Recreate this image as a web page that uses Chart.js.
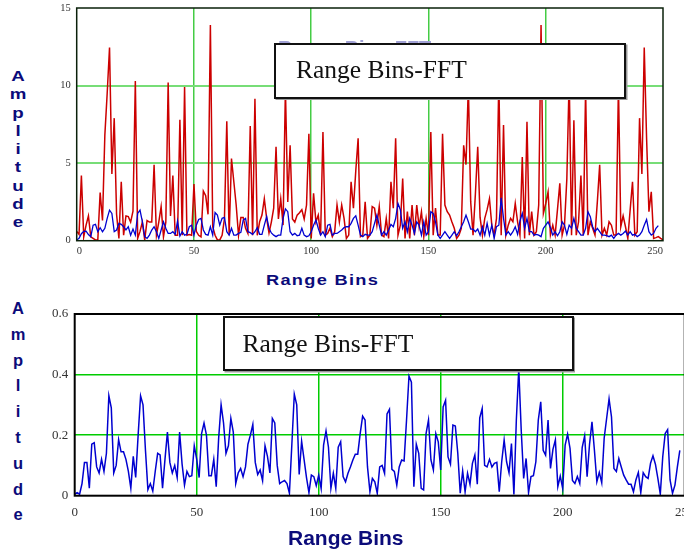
<!DOCTYPE html>
<html>
<head>
<meta charset="utf-8">
<script src="https://cdn.jsdelivr.net/npm/chart.js@4.4.0/dist/chart.umd.min.js"></script>
<style>
html, body { margin: 0; padding: 0; background: #fff; }
body { position: relative; width: 684px; height: 553px; overflow: hidden; }
canvas { position: absolute; }
.col { position: absolute; font-family: "Liberation Sans", Arial, sans-serif; font-weight: bold; color: #0b0b7a; text-align: center; }
.col span { display: block; }
.xt { position: absolute; font-family: "Liberation Sans", Arial, sans-serif; font-weight: bold; color: #0b0b7a; white-space: pre; }
.box { position: absolute; box-sizing: border-box; border: 2.5px solid #111; background: #fff; box-shadow: 1.5px 1.5px 0 #999; }
.boxtext { position: absolute; font-family: "Liberation Serif", "Times New Roman", serif; font-size: 25.5px; line-height: 25px; color: #111; white-space: pre; }
</style>
</head>
<body>
<canvas id="topChart" width="634" height="262" style="left:40px;top:0"></canvas>
<canvas id="bottomChart" width="670" height="240" style="left:30px;top:290px"></canvas>

<div id="ampTop" class="col" style="left:8px;top:67px;width:20px;font-size:14.4px;line-height:18.3px;transform:scaleX(1.3)"></div>
<div id="ampBottom" class="col" style="left:8px;top:296px;width:20px;font-size:16.5px;line-height:25.8px"></div>

<div class="xt" style="left:266px;top:273px;font-size:14px;line-height:14px;letter-spacing:1px;transform:scaleX(1.3);transform-origin:left top">Range Bins</div>
<div class="xt" style="left:288px;top:527px;font-size:21px;line-height:21px">Range Bins</div>

<div class="xt" style="left:278px;top:37.5px;font-size:20px;line-height:20px;color:#a0a0d4">Range Bins-FFT</div>
<div class="box" style="left:274px;top:42.5px;width:352px;height:56px"></div>
<div class="boxtext" style="left:296px;top:57.4px">Range Bins-FFT</div>

<div class="box" style="left:222.5px;top:315.5px;width:351px;height:55.5px"></div>
<div class="boxtext" style="left:242.5px;top:330.8px">Range Bins-FFT</div>

<script>
// --- data (index = range bin) ---
const yTitle = 'Amplitude';
const xTickValues = [0, 50, 100, 150, 200, 250];
const topYTicks = [0, 5, 10, 15];
const bottomYTicks = [0, 0.2, 0.4, 0.6];

const redTop = [
  0.6, 0.4, 4.2, 0.25, 1.0, 1.6, 0.25, 0.15, 0.05, 0.05,
  3.1, 1.3, 6.8, 9.5, 12.45, 4.3, 7.9, 1.7, 0.15, 3.8,
  0.35, 1.6, 1.55, 1.2, 1.9, 10.3, 0.15, 0.6, 1.2, 0.05,
  1.3, 1.2, 1.2, 4.9, 0.35, 1.2, 2.2, 0.25, 1.2, 10.2,
  1.6, 4.2, 0.35, 0.35, 7.8, 0.35, 9.9, 0.35, 0.4, 0.35,
  3.65, 0.6, 0.35, 0.25, 3.2, 2.9, 1.7, 13.9, 0.9, 0.35,
  0.05, 0.05, 0.35, 1.4, 7.7, 0.35, 5.3, 3.8, 2.3, 0.35,
  1.5, 1.5, 0.8, 0.47, 7.4, 0.35, 9.15, 0.35, 1.22, 1.65,
  2.7, 1.44, 0.5, 1.2, 2.1, 6.05, 1.4, 2.7, 1.0, 9.8,
  2.5, 6.15, 1.4, 1.2, 1.65, 1.8, 2.0, 1.4, 2.3, 6.9,
  0.15, 3.05, 1.2, 1.65, 0.36, 7.0, 0.36, 0.47, 0.8, 0.26,
  0.58, 2.3, 1.2, 2.3, 1.44, 0.15, 0.36, 3.8, 2.1, 4.5,
  6.6, 0.26, 0.36, 2.5, 0.15, 0.36, 2.2, 2.1, 1.0, 2.2,
  0.36, 0.26, 1.44, 0.15, 3.8, 2.1, 6.6, 0.36, 1.0, 4.0,
  0.15, 1.87, 0.15, 2.3, 0.36, 2.3, 0.9, 1.87, 0.26, 1.44,
  0.36, 7.0, 0.36, 2.1, 0.36, 0.36, 6.9, 2.3, 1.87, 1.65,
  1.2, 0.8, 0.15, 0.36, 0.8, 6.15, 4.9, 10.0, 2.5, 0.36,
  3.0, 6.05, 1.5, 0.36, 1.44, 2.0, 2.7, 1.0, 0.36, 1.44,
  10.5, 0.36, 7.45, 0.36, 1.0, 1.44, 1.22, 2.4, 1.22, 0.36,
  5.4, 0.15, 7.66, 0.36, 1.87, 0.36, 0.58, 2.3, 13.9, 1.76,
  2.4, 3.15, 0.36, 1.0, 0.36, 2.0, 3.7, 0.36, 1.0, 4.0,
  10.5, 0.36, 7.77, 0.36, 1.22, 4.2, 0.36, 9.8, 0.36, 1.22,
  0.8, 0.36, 2.5, 4.9, 0.36, 0.8, 0.36, 1.22, 1.0, 0.36,
  0.36, 10.0, 0.9, 1.6, 0.9, 0.15, 2.0, 3.8, 0.36, 0.58,
  7.9, 4.3, 12.45, 6.6, 1.87, 3.15, 0.15, 0.2, 0.26, 0.15,
  0.05
];

const blueTop = [
  0.05, 0.15, 0.45, 0.6, 0.62, 0.4, 0.26, 1.0, 1.05, 0.58,
  0.84, 0.58, 0.8, 1.44, 1.97, 1.76, 0.58, 0.69, 1.12, 1.05,
  0.9, 0.69, 0.9, 0.36, 0.75, 0.36, 1.76, 1.97, 1.22, 0.26,
  0.15, 0.36, 0.69, 0.9, 0.58, 0.15, 0.69, 1.22, 0.8, 0.47,
  0.47, 0.58, 0.41, 1.27, 0.3, 0.58, 0.36, 0.41, 0.9, 1.0,
  0.36, 1.0, 1.37, 1.44, 0.69, 0.41, 0.36, 0.9, 0.36, 1.82,
  1.65, 1.0, 1.44, 1.5, 0.58, 0.36, 0.8, 0.36, 0.36, 0.47,
  0.54, 1.33, 1.44, 0.58, 0.52, 0.41, 0.58, 0.84, 0.41, 0.41,
  1.0, 1.55, 0.8, 0.5, 0.36, 0.26, 0.36, 0.36, 1.44, 2.05,
  1.87, 0.58, 0.36, 0.47, 0.32, 0.36, 0.8, 0.36, 0.26, 0.32,
  0.58, 1.0, 1.33, 0.8, 0.36, 0.58, 0.26, 1.0, 1.05, 0.36,
  0.47, 0.47, 0.58, 0.69, 0.84, 0.9, 0.9, 1.12, 1.44, 1.6,
  1.0, 0.36, 0.26, 0.41, 0.36, 0.36, 0.58, 1.12, 1.65, 1.0,
  0.36, 0.58, 0.36, 0.69, 1.05, 0.9, 1.44, 2.4, 2.0, 0.8,
  1.22, 0.58, 1.44, 1.0, 0.47, 1.22, 1.0, 0.36, 1.22, 0.36,
  0.58, 1.87, 1.76, 1.22, 0.36, 0.15, 0.36, 0.58, 0.36, 0.15,
  0.36, 0.58, 0.32, 0.58, 0.9, 1.22, 1.65, 1.22, 0.75, 0.75,
  0.58, 0.75, 0.36, 0.9, 0.36, 1.12, 0.36, 1.0, 0.15, 0.9,
  1.0, 2.77, 1.44, 0.36, 0.58, 0.36, 0.58, 0.9, 0.41, 1.27,
  1.76, 0.8, 1.44, 0.58, 0.58, 0.36, 0.41, 0.36, 0.26, 0.8,
  1.0, 1.22, 0.84, 0.36, 0.58, 0.32, 0.58, 1.22, 1.0, 0.41,
  1.0, 0.8, 1.44, 0.8, 0.58, 0.36, 0.36, 0.8, 1.87, 1.55,
  0.9, 0.58, 0.8, 0.58, 0.36, 0.36, 0.32, 0.26, 0.36, 0.15,
  0.36, 0.47, 0.36, 0.47, 0.62, 0.36, 0.58, 0.36, 0.41, 0.26,
  0.36, 0.58, 1.0, 1.37, 0.58, 0.36, 0.47, 0.8, 0.97
];

const blueBottom = [
  0.005, 0.01, 0.005, 0.04, 0.11, 0.11, 0.025, 0.17, 0.175, 0.095,
  0.075, 0.12, 0.08, 0.14, 0.33, 0.29, 0.075, 0.1, 0.185, 0.145,
  0.145, 0.12, 0.08, 0.025, 0.13, 0.06, 0.2, 0.33, 0.3, 0.15,
  0.02, 0.04, 0.015, 0.08, 0.14, 0.135, 0.025, 0.12, 0.21, 0.11,
  0.075, 0.1, 0.06, 0.21, 0.105, 0.035, 0.08, 0.063, 0.066, 0.165,
  0.12, 0.06, 0.205, 0.24, 0.2, 0.066, 0.066, 0.12, 0.03, 0.19,
  0.3, 0.24, 0.14, 0.165, 0.255, 0.21, 0.04, 0.075, 0.09, 0.063,
  0.095, 0.17, 0.2, 0.235, 0.11, 0.07, 0.085, 0.05, 0.165, 0.13,
  0.075, 0.255, 0.24, 0.1, 0.04, 0.046, 0.05, 0.04, 0.008, 0.17,
  0.335, 0.3, 0.07, 0.18, 0.12, 0.06, 0.01, 0.068, 0.063, 0.033,
  0.068, 0.024, 0.167, 0.214, 0.16, 0.024, 0.074, 0.024, 0.16, 0.178,
  0.063, 0.046, 0.074, 0.095, 0.118, 0.137, 0.137, 0.205, 0.263, 0.25,
  0.095, 0.013, 0.057, 0.046, 0.008, 0.095, 0.1, 0.074, 0.27, 0.285,
  0.087, 0.08, 0.035, 0.095, 0.118, 0.115, 0.25, 0.395, 0.375, 0.03,
  0.17, 0.14, 0.024, 0.019, 0.205, 0.25, 0.118, 0.085, 0.205, 0.178,
  0.085, 0.293, 0.315, 0.128, 0.104, 0.233, 0.23, 0.14, 0.008, 0.082,
  0.013, 0.074, 0.038, 0.107, 0.134, 0.038, 0.257, 0.288, 0.1, 0.095,
  0.12, 0.095, 0.107, 0.11, 0.013, 0.112, 0.184, 0.112, 0.076, 0.172,
  0.004, 0.25, 0.42, 0.216, 0.057, 0.123, 0.01, 0.063, 0.066, 0.112,
  0.25, 0.31, 0.15, 0.134, 0.25, 0.09, 0.153, 0.184, 0.03, 0.065,
  0.024, 0.167, 0.203, 0.156, 0.05, 0.04, 0.063, 0.04, 0.16, 0.198,
  0.063, 0.17, 0.244, 0.15, 0.046, 0.077, 0.043, 0.19, 0.255, 0.32,
  0.26, 0.09, 0.08, 0.123, 0.095, 0.068, 0.052, 0.038, 0.038, 0.013,
  0.052, 0.077, 0.01, 0.076, 0.063, 0.057, 0.107, 0.132, 0.104, 0.057,
  0.005, 0.128, 0.205, 0.218, 0.052, 0.008, 0.035, 0.095, 0.15
];

// stacked vertical axis titles
['ampTop', 'ampBottom'].forEach(id => {
  document.getElementById(id).innerHTML = yTitle.split('').map(c => '<span>' + c + '</span>').join('');
});

const toPoints = arr => arr.map((v, i) => ({ x: i, y: v }));

// outline of the plot area
const frame = {
  id: 'frame',
  afterDraw(chart, args, opts) {
    const { left, top, width, height } = chart.chartArea;
    const ctx = chart.ctx;
    ctx.save();
    ctx.strokeStyle = opts.color;
    ctx.lineWidth = opts.width;
    ctx.strokeRect(left, top, width, height);
    ctx.restore();
  }
};

function gridColor(color, min, max) {
  return ctx => (ctx.tick && (ctx.tick.value === min || ctx.tick.value === max)) ? 'rgba(0,0,0,0)' : color;
}

// fixed axis sizes, no extra room for edge labels
function fixSize(prop, size) {
  return s => {
    s[prop] = size;
    s.paddingTop = 0; s.paddingBottom = 0; s.paddingLeft = 0; s.paddingRight = 0;
  };
}

function makeChart(id, datasets, cfg) {
  const yMax = cfg.yTicks[cfg.yTicks.length - 1];
  return new Chart(document.getElementById(id), {
    type: 'line',
    data: { datasets: datasets },
    plugins: [frame],
    options: {
      responsive: false,
      animation: false,
      events: [],
      layout: { padding: cfg.padding },
      elements: { point: { radius: 0 }, line: { tension: 0 } },
      plugins: {
        legend: { display: false },
        tooltip: { enabled: false },
        frame: { color: cfg.frameColor, width: cfg.frameWidth }
      },
      scales: {
        x: {
          type: 'linear', min: 0, max: 250,
          afterBuildTicks: s => { s.ticks = xTickValues.map(v => ({ value: v })); },
          afterFit: fixSize('height', cfg.xHeight),
          border: { display: false },
          grid: { color: gridColor(cfg.vGrid, 0, 250), lineWidth: cfg.vGridWidth, drawTicks: false },
          ticks: {
            align: cfg.xAlign, maxRotation: 0, autoSkip: false, padding: cfg.xPad,
            color: '#333', font: { family: 'Liberation Serif', size: cfg.tickSize },
            callback: v => String(v)
          }
        },
        y: {
          type: 'linear', min: 0, max: yMax,
          afterBuildTicks: s => { s.ticks = cfg.yTicks.map(v => ({ value: v })); },
          afterFit: fixSize('width', cfg.yWidth),
          border: { display: false },
          grid: { color: gridColor(cfg.hGrid, 0, yMax), lineWidth: cfg.hGridWidth, drawTicks: false },
          ticks: {
            padding: cfg.yPad, color: '#333',
            font: { family: 'Liberation Serif', size: cfg.tickSize },
            callback: v => String(v)
          }
        }
      }
    }
  });
}

makeChart('topChart', [
  { data: toPoints(blueTop), borderColor: '#0000d0', borderWidth: 1.3 },
  { data: toPoints(redTop), borderColor: '#cc0000', borderWidth: 1.5 }
], {
  padding: { top: 8, right: 11, left: 0, bottom: 0 },
  xHeight: 21.3, yWidth: 36.7, xPad: 4, yPad: 6, tickSize: 10.5, xAlign: 'inner',
  yTicks: topYTicks,
  vGrid: '#44cc44', vGridWidth: 1.5, hGrid: '#77dd77', hGridWidth: 2,
  frameColor: '#0a200a', frameWidth: 1.5
});

makeChart('bottomChart', [
  { data: toPoints(blueBottom), borderColor: '#0000d0', borderWidth: 1.5 }
], {
  padding: { top: 24, right: 15.3, left: 0, bottom: 0 },
  xHeight: 34.3, yWidth: 44.7, xPad: 9.5, yPad: 6.5, tickSize: 13, xAlign: 'center',
  yTicks: bottomYTicks,
  vGrid: '#00cc00', vGridWidth: 1.5, hGrid: '#00cc00', hGridWidth: 1.5,
  frameColor: '#000', frameWidth: 2
});
</script>
</body>
</html>
